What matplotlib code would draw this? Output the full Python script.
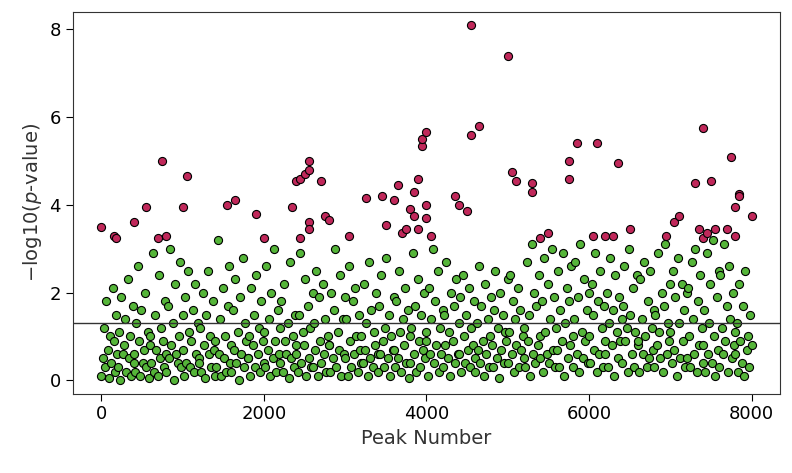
import numpy as np
import matplotlib.pyplot as plt

# significant peaks (red)
red_x = [0, 150, 180, 400, 550, 700, 750, 800, 1000, 1050, 1550, 1650, 1900, 2000,
         2350, 2400, 2450, 2450, 2500, 2550, 2550, 2550, 2550, 2700, 2750, 2800,
         3050, 3250, 3450, 3500, 3600, 3650, 3700, 3750, 3800, 3850, 3850, 3900,
         3900, 3950, 3950, 4000, 4000, 4000, 4050, 4350, 4400, 4500, 4550, 4550,
         4650, 5000, 5050, 5100, 5300, 5300, 5400, 5500, 5750, 5750, 5850, 6050,
         6100, 6200, 6300, 6350, 6500, 6950, 7050, 7100, 7300, 7350, 7400, 7400,
         7450, 7500, 7550, 7700, 7750, 7800, 7800, 7850, 7850, 8000]
red_y = [3.5, 3.3, 3.25, 3.6, 3.95, 3.25, 5.0, 3.3, 3.95, 4.65, 4.0, 4.1, 3.8, 3.25,
         3.95, 4.55, 4.6, 3.25, 4.7, 5.0, 4.8, 3.6, 3.45, 4.55, 3.75, 3.65,
         3.3, 4.15, 4.2, 3.55, 4.1, 4.45, 3.35, 3.45, 3.9, 4.3, 3.75, 4.6,
         3.45, 5.35, 5.5, 5.65, 4.0, 3.7, 3.3, 4.2, 4.0, 3.85, 5.6, 8.1,
         5.8, 7.4, 4.75, 4.55, 4.5, 4.3, 3.25, 3.35, 4.6, 5.0, 5.4, 3.3,
         5.4, 3.3, 3.3, 4.95, 3.45, 3.3, 3.6, 3.75, 4.5, 3.45, 5.75, 3.25,
         3.35, 4.55, 3.45, 3.45, 5.1, 3.95, 3.3, 4.25, 4.2, 3.75]

# other peaks (green), rough per-bin readings, bins of 200 peaks
bin_width = 200
green_bins = [
    [0.1, 0.5, 1.2, 0.3, 1.8, 0.7, 0.05, 1.0, 0.4, 2.1, 0.9, 0.2, 1.5, 0.6],
    [0.3, 1.1, 0.0, 1.9, 0.6, 0.8, 1.4, 0.2, 2.3, 0.5, 1.0, 0.1, 1.7, 0.4],
    [0.6, 0.2, 1.3, 2.6, 0.9, 0.1, 1.6, 0.4, 0.7, 2.0, 0.3, 1.1, 0.05, 0.8],
    [1.0, 0.4, 2.9, 0.2, 1.5, 0.7, 0.1, 2.4, 0.5, 1.2, 0.9, 0.3, 1.8, 0.6],
    [0.2, 1.7, 0.5, 3.0, 0.8, 1.3, 0.0, 2.2, 0.6, 0.4, 1.0, 2.7, 0.3, 1.5],
    [0.7, 0.1, 1.9, 0.4, 2.5, 1.1, 0.3, 0.9, 1.6, 0.2, 2.2, 0.6, 1.3, 0.5],
    [0.4, 1.2, 0.2, 2.0, 0.8, 0.05, 1.5, 2.5, 0.6, 1.0, 0.3, 1.8, 0.7, 0.1],
    [0.9, 0.3, 3.2, 0.6, 1.4, 0.1, 2.1, 0.5, 1.0, 0.2, 1.7, 2.6, 0.4, 0.8],
    [0.2, 1.6, 0.7, 2.3, 0.4, 1.1, 0.0, 1.9, 0.6, 2.8, 0.3, 1.3, 0.9, 0.5],
    [0.5, 1.0, 0.1, 2.1, 0.8, 1.5, 0.3, 2.4, 0.6, 1.2, 0.2, 1.8, 0.9, 0.4],
    [1.1, 0.3, 2.6, 0.7, 1.4, 0.1, 2.0, 0.5, 3.0, 0.9, 0.2, 1.6, 0.6, 1.2],
    [0.4, 1.8, 0.2, 2.2, 0.9, 0.6, 1.3, 0.05, 2.7, 0.5, 1.0, 0.3, 1.5, 0.8],
    [0.6, 0.2, 1.5, 2.9, 0.4, 1.1, 0.8, 2.3, 0.1, 1.7, 0.5, 1.2, 0.3, 2.0],
    [0.3, 1.3, 0.7, 2.5, 0.1, 1.9, 0.9, 0.4, 2.2, 0.6, 1.4, 0.2, 1.0, 0.8],
    [0.8, 0.2, 2.0, 0.5, 1.6, 3.0, 0.3, 1.1, 0.7, 2.4, 0.1, 1.4, 0.6, 1.9],
    [0.5, 1.4, 0.1, 2.6, 0.9, 0.3, 1.8, 0.6, 2.1, 1.0, 0.2, 1.5, 0.7, 0.4],
    [1.0, 0.4, 2.2, 0.7, 1.3, 0.1, 2.7, 0.5, 1.6, 0.3, 1.1, 0.8, 2.0, 0.6],
    [0.2, 1.7, 0.6, 2.4, 0.9, 0.3, 1.2, 2.8, 0.5, 1.5, 0.1, 1.0, 0.7, 1.9],
    [0.7, 0.3, 1.8, 0.5, 2.5, 1.1, 0.2, 1.4, 0.8, 2.1, 0.4, 1.6, 0.05, 1.0],
    [0.4, 1.2, 2.9, 0.6, 1.7, 0.2, 2.3, 0.9, 0.3, 1.5, 0.7, 2.0, 0.5, 1.1],
    [0.9, 0.1, 2.1, 0.6, 1.4, 3.0, 0.4, 1.8, 0.8, 2.5, 0.2, 1.2, 0.6, 1.6],
    [0.3, 1.5, 0.8, 2.7, 0.5, 1.1, 0.1, 2.0, 0.9, 1.7, 0.4, 2.3, 0.6, 1.3],
    [0.6, 1.9, 0.2, 2.4, 1.0, 0.4, 1.5, 0.7, 2.1, 0.3, 1.2, 0.8, 1.8, 0.5],
    [0.2, 1.3, 0.7, 2.6, 0.4, 1.7, 0.9, 0.1, 2.2, 0.6, 1.4, 0.3, 1.0, 1.9],
    [0.8, 0.3, 1.6, 2.5, 0.5, 1.2, 0.05, 2.0, 0.7, 1.5, 0.4, 1.1, 0.9, 2.3],
    [0.4, 1.1, 2.4, 0.6, 1.8, 0.2, 1.4, 0.8, 2.1, 0.3, 1.6, 0.7, 1.0, 0.5],
    [1.2, 0.3, 2.7, 0.9, 1.5, 0.1, 3.1, 0.6, 2.0, 0.4, 1.7, 0.8, 2.4, 1.0],
    [0.5, 1.8, 0.2, 2.8, 1.1, 0.6, 2.2, 0.4, 1.4, 3.0, 0.7, 1.9, 0.3, 1.2],
    [0.7, 2.5, 0.3, 1.6, 0.9, 2.9, 0.1, 1.3, 2.1, 0.5, 1.8, 0.8, 2.6, 1.0],
    [0.3, 1.4, 2.7, 0.6, 1.9, 0.2, 3.1, 1.1, 0.5, 2.3, 0.9, 1.6, 0.4, 2.0],
    [1.0, 0.4, 2.2, 1.5, 0.7, 2.9, 0.2, 1.8, 0.6, 2.5, 1.2, 0.3, 1.7, 0.9],
    [0.6, 2.0, 0.3, 1.3, 2.8, 0.8, 1.6, 0.1, 2.4, 1.1, 0.5, 1.9, 0.9, 1.4],
    [0.4, 1.7, 2.6, 0.9, 1.2, 0.2, 3.0, 1.5, 0.6, 2.1, 0.3, 1.1, 2.4, 0.8],
    [0.9, 0.2, 2.3, 1.4, 0.6, 2.7, 1.0, 0.3, 1.8, 0.5, 2.5, 1.2, 0.7, 1.6],
    [0.3, 1.5, 0.8, 2.9, 1.1, 0.5, 2.0, 0.2, 1.7, 3.1, 0.6, 1.3, 0.9, 2.2],
    [1.1, 0.4, 2.5, 0.7, 1.9, 0.1, 2.8, 1.3, 0.5, 2.2, 0.9, 1.6, 0.3, 2.0],
    [0.5, 2.1, 1.0, 0.3, 2.7, 1.4, 0.6, 3.0, 0.2, 1.8, 0.8, 2.4, 1.2, 0.4],
    [0.8, 1.6, 0.2, 2.9, 0.6, 1.3, 2.2, 0.4, 3.2, 1.0, 0.1, 1.9, 0.7, 2.5],
    [0.3, 2.4, 1.2, 0.6, 3.1, 0.9, 1.7, 0.2, 2.6, 1.4, 0.5, 2.0, 0.8, 1.1],
    [0.6, 1.3, 0.2, 2.2, 0.9, 0.4, 1.7, 0.1, 2.5, 0.7, 1.0, 0.3, 1.5, 0.8],
]
threshold = 1.3

green_x, green_y = [], []
for i, vals in enumerate(green_bins):
    green_x.extend(np.linspace(i * bin_width, (i + 1) * bin_width - 1, len(vals)))
    green_y.extend(vals)

fig, ax = plt.subplots(figsize=(7.92, 4.73), dpi=100)
ax.scatter(green_x, green_y, s=34, c="#55b539", edgecolors="black", linewidths=0.8, zorder=2)
ax.scatter(red_x, red_y, s=34, c="#c0285a", edgecolors="black", linewidths=0.8, zorder=3)
ax.axhline(threshold, color="#333333", lw=1, zorder=4)

ax.set_xlim(-350, 8350)
ax.set_ylim(-0.3, 8.4)
ax.set_xticks([0, 2000, 4000, 6000, 8000])
ax.set_yticks([0, 2, 4, 6, 8])
ax.tick_params(labelsize=13, length=5)
ax.set_xlabel("Peak Number", fontsize=14, color="#333333")
ax.set_ylabel(r"$-$log10($p$-value)", fontsize=14, color="#333333")
for s in ax.spines.values():
    s.set_color("#333333")
plt.subplots_adjust(left=0.092, right=0.985, top=0.975, bottom=0.168)
plt.savefig("out.png")
